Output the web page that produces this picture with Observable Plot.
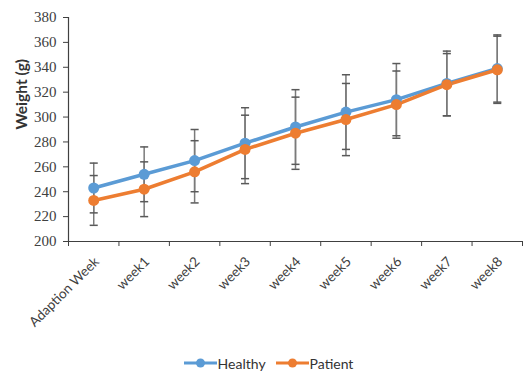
<!DOCTYPE html>
<html><head><meta charset="utf-8">
<script src="https://cdn.jsdelivr.net/npm/d3@7"></script>
<script src="https://cdn.jsdelivr.net/npm/@observablehq/plot@0.6"></script>
<style>
body{margin:0;background:#fff;}
#legend{width:531px;height:26px;display:flex;justify-content:center;align-items:center;font-family:Lato,"Open Sans",sans-serif;font-size:14px;color:#333;gap:10px;padding-left:6px;box-sizing:border-box;}
#legend span.item{display:flex;align-items:center;}
g[aria-label="y-axis tick label"]{font-family:"Liberation Serif",serif;font-size:15px;}
g[aria-label="x-axis tick label"]{font-family:Lato,sans-serif;font-size:13.5px;}
</style></head>
<body><div id="chart"></div><div id="legend"></div>
<script>
const categories = ["Adaption Week","week1","week2","week3","week4","week5","week6","week7","week8"];
const healthyMean = [243, 254, 265, 279, 292, 304, 314, 327, 339];
const healthySD   = [20, 22, 25, 28.5, 30, 30, 29, 26, 27];
const patientMean = [233, 242, 256, 274, 287, 298, 310, 326, 338];
const patientSD   = [20, 22, 25, 27.5, 29, 29, 27, 25, 27];
const seriesNames = ["Healthy","Patient"];
const colors = ["#5B9BD5","#ED7D31"];

const rows = [];
categories.forEach((c,i)=>{
  rows.push({i, series:"Healthy", mean:healthyMean[i], sd:healthySD[i]});
});
categories.forEach((c,i)=>{
  rows.push({i, series:"Patient", mean:patientMean[i], sd:patientSD[i]});
});
const boundaries = d3.range(-0.5, categories.length, 1);
const capW = 0.08;

const chart = Plot.plot({
  width: 531, height: 350,
  marginLeft: 68, marginTop: 17, marginRight: 9, marginBottom: 109,
  x: {type:"linear", domain:[-0.5, categories.length-0.5]},
  y: {domain:[200,380]},
  color: {domain: seriesNames, range: colors},
  style: {fontFamily: "Lato, sans-serif"},
  marks: [
    Plot.axisY({ticks: d3.range(200,381,20), tickSize:5, tickPadding:7, label:null, color:"#404040"}),
    Plot.text(["Weight (g)"], {frameAnchor:"left", dx:-46, rotate:-90, fontSize:15.5, fontWeight:"bold", fill:"#333", fontFamily:"Lato, sans-serif"}),
    Plot.axisX({ticks: boundaries, tickSize:5, tickFormat: ()=>"", label:null, color:"#404040"}),
    Plot.axisX({ticks: d3.range(categories.length), tickSize:0, tickPadding:18, dx:3, tickRotate:-45,
      tickFormat: i=>categories[i], label:null, fill:"#404040"}),
    Plot.ruleX([-0.5], {stroke:"#404040", strokeWidth:1.2}),
    Plot.ruleY([200], {stroke:"#404040", strokeWidth:1.2}),
    Plot.ruleX(rows, {x:"i", y1:d=>d.mean-d.sd, y2:d=>d.mean+d.sd, stroke:"#7a7a7a", strokeWidth:1.5}),
    Plot.link(rows, {x1:d=>d.i-capW, x2:d=>d.i+capW, y1:d=>d.mean+d.sd, y2:d=>d.mean+d.sd, stroke:"#595959", strokeWidth:1.5}),
    Plot.link(rows, {x1:d=>d.i-capW, x2:d=>d.i+capW, y1:d=>d.mean-d.sd, y2:d=>d.mean-d.sd, stroke:"#595959", strokeWidth:1.5}),
    Plot.line(rows, {x:"i", y:"mean", z:"series", stroke:"series", strokeWidth:3.5}),
    Plot.dot(rows, {x:"i", y:"mean", fill:"series", r:5.5})
  ]
});
document.getElementById("chart").appendChild(chart);

const leg = document.getElementById("legend");
seriesNames.forEach((n,k)=>{
  const s = document.createElement("span"); s.className="item";
  s.innerHTML = `<svg width="33" height="12"><line x1="0" y1="6" x2="33" y2="6" stroke="${colors[k]}" stroke-width="3"/><circle cx="16.5" cy="6" r="4.5" fill="${colors[k]}"/></svg><span style="margin-left:1px">${n}</span>`;
  leg.appendChild(s);
});
</script></body></html>
